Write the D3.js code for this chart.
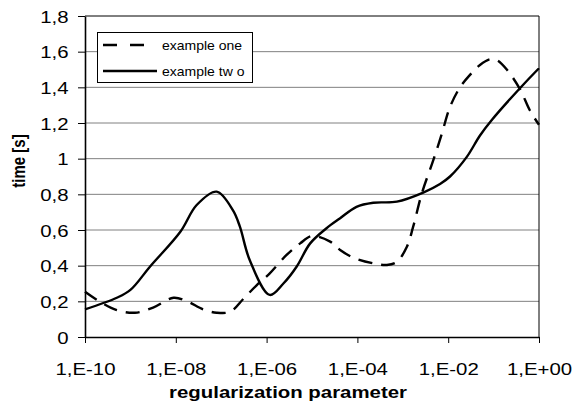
<!DOCTYPE html>
<html>
<head>
<meta charset="utf-8">
<script src="https://cdn.jsdelivr.net/npm/d3@7"></script>
<style>
  body { margin: 0; background: #fff; }
  svg text { font-family: "Liberation Sans", Arial, sans-serif; fill: #000; }
</style>
</head>
<body>
<div id="chart"></div>
<script>
// series values, x given as decade exponents (10^e)
const expOne = [-10, -9.67, -9.3, -8.9, -8.5, -8.05, -7.75, -7.4, -7.1, -6.8, -6.5, -6.22, -5.93, -5.56, -5.26, -5.0, -4.6, -4.38, -4.09, -3.65, -3.35, -3.13, -2.91, -2.77, -2.58, -2.33, -2.14, -1.96, -1.74, -1.52, -1.3, -1.08, -0.93, -0.71, -0.42, -0.2, 0];
const timeOne = [0.254, 0.198, 0.151, 0.136, 0.165, 0.22, 0.2, 0.155, 0.136, 0.142, 0.217, 0.29, 0.357, 0.46, 0.525, 0.566, 0.535, 0.488, 0.445, 0.413, 0.404, 0.422, 0.506, 0.62, 0.806, 0.99, 1.14, 1.29, 1.4, 1.47, 1.525, 1.557, 1.553, 1.5, 1.39, 1.27, 1.19];

const expTwo = [-10, -9.3, -9.0, -8.57, -7.9, -7.54, -7.1, -6.74, -6.59, -6.37, -5.93, -5.63, -5.34, -5.04, -4.68, -4.38, -4.02, -3.65, -3.13, -2.55, -2.18, -1.96, -1.59, -1.3, -1.04, -0.42, 0];
const timeTwo = [0.155, 0.22, 0.264, 0.394, 0.59, 0.74, 0.815, 0.71, 0.62, 0.43, 0.236, 0.3, 0.394, 0.525, 0.61, 0.666, 0.73, 0.753, 0.759, 0.81, 0.858, 0.9, 1.01, 1.13, 1.217, 1.395, 1.507];

const xTicks = [1e-10, 1e-8, 1e-6, 1e-4, 1e-2, 1];
const xTickLabels = ["1,E-10", "1,E-08", "1,E-06", "1,E-04", "1,E-02", "1,E+00"];
const yTicks = [0, 0.2, 0.4, 0.6, 0.8, 1, 1.2, 1.4, 1.6, 1.8];
const yTickLabels = ["0", "0,2", "0,4", "0,6", "0,8", "1", "1,2", "1,4", "1,6", "1,8"];
const seriesNames = ["example one", "example tw o"];

const width = 576, height = 405;
const margin = {top: 16, right: 37, bottom: 68, left: 85};
const sx = 1.2; // horizontal stretch of the original text

const svg = d3.select("#chart").append("svg")
  .attr("width", width)
  .attr("height", height);

const x = d3.scaleLog()
  .domain([1e-10, 1])
  .range([margin.left, width - margin.right]);

const y = d3.scaleLinear()
  .domain([0, 1.8])
  .range([height - margin.bottom, margin.top]);

// grid lines
svg.append("g")
  .selectAll("line")
  .data(yTicks.slice(1, -1))
  .enter().append("line")
  .attr("x1", margin.left)
  .attr("x2", width - margin.right)
  .attr("y1", d => y(d))
  .attr("y2", d => y(d))
  .style("stroke", "#808080")
  .style("stroke-width", 1);

// plot frame top / right
svg.append("path")
  .attr("d", `M${margin.left},${y(1.8)}H${x(1)}V${y(0)}`)
  .style("fill", "none")
  .style("stroke", "#000")
  .style("stroke-width", 1);

// y axis
const yAxis = svg.append("g")
  .attr("transform", `translate(${margin.left},0)`)
  .call(d3.axisLeft(y).tickValues(yTicks).tickSize(7).tickSizeOuter(0)
    .tickFormat((d, i) => yTickLabels[i]));
yAxis.select(".domain").style("stroke-width", 1.6);
yAxis.selectAll(".tick line").style("stroke-width", 1);
yAxis.selectAll(".tick text")
  .attr("x", null)
  .attr("dy", null)
  .attr("y", 6)
  .attr("transform", `translate(-16.5,0) scale(${sx},1)`)
  .style("font-size", "17px");

// x axis
const xAxis = svg.append("g")
  .attr("transform", `translate(0,${y(0)})`)
  .call(d3.axisBottom(x).tickValues(xTicks).tickSize(6).tickSizeOuter(0)
    .tickFormat((d, i) => xTickLabels[i]));
xAxis.select(".domain").style("stroke-width", 1.6);
xAxis.selectAll(".tick line").style("stroke-width", 1);
xAxis.selectAll(".tick text")
  .attr("y", null)
  .attr("dy", null)
  .attr("transform", `translate(0,38) scale(${sx},1)`)
  .style("font-size", "17px");
svg.selectAll(".domain, .tick line").style("stroke", "#000");

// axis titles
svg.append("text")
  .attr("transform", `translate(288,398) scale(${sx},1)`)
  .attr("text-anchor", "middle")
  .style("font-size", "17px")
  .style("font-weight", "bold")
  .text("regularization parameter");

svg.append("text")
  .attr("transform", `translate(25,161) scale(${sx},1) rotate(-90)`)
  .attr("text-anchor", "middle")
  .style("font-size", "15px")
  .style("font-weight", "bold")
  .text("time [s]");

// lines
const line = d3.line()
  .x(d => x(Math.pow(10, d[0])))
  .y(d => y(d[1]))
  .curve(d3.curveCatmullRom.alpha(0.5));

const dataOne = expOne.map((e, i) => [e, timeOne[i]]);
const dataTwo = expTwo.map((e, i) => [e, timeTwo[i]]);

svg.append("path")
  .datum(dataTwo)
  .attr("d", line)
  .style("fill", "none")
  .style("stroke", "#000")
  .style("stroke-width", 2.4);

svg.append("path")
  .datum(dataOne)
  .attr("d", line)
  .style("fill", "none")
  .style("stroke", "#000")
  .style("stroke-width", 2.4)
  .style("stroke-dasharray", "14,9");

// legend
const legend = svg.append("g");
legend.append("rect")
  .attr("x", 97.5).attr("y", 32.5)
  .attr("width", 155).attr("height", 50)
  .style("fill", "#fff")
  .style("stroke", "#000")
  .style("stroke-width", 1);

const legendRows = [
  {name: seriesNames[0], dash: "14,13", yy: 45},
  {name: seriesNames[1], dash: null, yy: 71}
];
legendRows.forEach(r => {
  legend.append("line")
    .attr("x1", 103).attr("x2", 157)
    .attr("y1", r.yy).attr("y2", r.yy)
    .style("stroke", "#000")
    .style("stroke-width", 2.4)
    .style("stroke-dasharray", r.dash);
  legend.append("text")
    .attr("transform", `translate(162,${r.yy + 4.5}) scale(1.12,1)`)
    .style("font-size", "12.5px")
    .text(r.name);
});
</script>
</body>
</html>
